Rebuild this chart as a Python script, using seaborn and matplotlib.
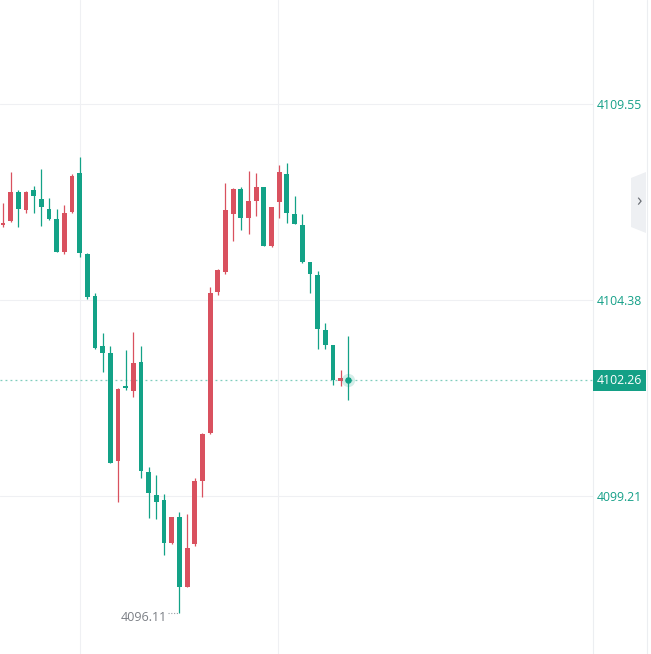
import matplotlib.pyplot as plt
import matplotlib.patches as mpatches
import numpy as np
import pandas as pd
import seaborn as sns

# candle data (price axis on the right)
opens = [4106.35, 4106.46, 4107.23, 4106.76, 4107.28, 4107.04, 4106.77, 4106.52, 4105.65, 4106.69,
         4107.73, 4105.59, 4104.49, 4103.17, 4102.97, 4100.14, 4102.07, 4101.99, 4102.74, 4099.84,
         4099.24, 4099.10, 4097.98, 4098.66, 4096.82, 4097.93, 4099.61, 4100.86, 4104.59, 4105.12,
         4106.64, 4107.31, 4106.53, 4107.00, 4107.35, 4105.79, 4106.97, 4107.70, 4106.64, 4106.35,
         4105.37, 4105.03, 4103.58, 4103.19, 4102.24, 4102.31]
highs = [4106.94, 4107.76, 4107.28, 4107.25, 4107.39, 4107.84, 4107.07, 4106.78, 4106.89, 4107.70,
         4108.16, 4105.62, 4104.56, 4103.50, 4103.17, 4102.05, 4103.06, 4103.54, 4103.17, 4099.98,
         4099.76, 4099.26, 4098.66, 4098.79, 4098.72, 4099.68, 4100.87, 4104.73, 4105.19, 4107.46,
         4107.33, 4107.35, 4107.79, 4107.72, 4107.36, 4106.84, 4107.94, 4108.00, 4107.12, 4106.65,
         4105.38, 4105.15, 4103.78, 4103.20, 4102.53, 4103.43]
lows = [4106.31, 4106.44, 4106.31, 4106.67, 4106.67, 4106.34, 4106.50, 4105.64, 4105.60, 4106.68,
        4105.51, 4104.40, 4103.08, 4102.49, 4100.07, 4099.06, 4102.01, 4101.83, 4099.69, 4098.63,
        4098.60, 4097.65, 4097.94, 4096.11, 4096.80, 4097.90, 4099.19, 4100.84, 4104.50, 4105.07,
        4105.94, 4106.23, 4106.11, 4106.58, 4105.80, 4105.77, 4106.53, 4106.40, 4106.38, 4105.36,
        4104.56, 4103.09, 4103.09, 4102.14, 4102.11, 4101.74]
closes = [4106.37, 4107.23, 4106.79, 4107.23, 4107.12, 4106.84, 4106.52, 4105.65, 4106.67, 4107.66,
          4105.63, 4104.45, 4103.10, 4102.99, 4100.09, 4102.03, 4102.05, 4102.71, 4099.86, 4099.28,
          4099.06, 4097.98, 4098.66, 4096.82, 4097.84, 4099.61, 4100.85, 4104.56, 4105.17, 4106.75,
          4107.31, 4106.53, 4106.99, 4107.35, 4105.81, 4106.83, 4107.75, 4106.67, 4106.39, 4105.37,
          4105.05, 4103.60, 4103.20, 4102.27, 4102.31, 4102.26]

price_ticks = [4099.21, 4104.38, 4109.55]
last_price = 4102.26
low_label = "4096.11"

up_color = "#d9515f"
down_color = "#13a287"

df = pd.DataFrame({"open": opens, "high": highs, "low": lows, "close": closes})
df["idx"] = np.arange(len(df))
df["color"] = np.where(df["close"] >= df["open"], up_color, down_color)
df["bottom"] = df[["open", "close"]].min(axis=1)
df["height"] = (df["close"] - df["open"]).abs().clip(lower=0.06)

sns.set_theme(style="white")
plt.rcParams['font.family'] = ['Open Sans', 'DejaVu Sans']

fig = plt.figure(figsize=(6.51, 6.54), dpi=100)
ax = fig.add_axes([0, 0, 593 / 651, 1])

# wicks and bodies
ax.vlines(df["idx"], df["low"], df["high"], colors=df["color"], linewidth=0.9, zorder=3)
ax.bar(df["idx"], df["height"], bottom=df["bottom"], width=0.62, color=df["color"],
       linewidth=0, zorder=4)

ax.set_xlim(-0.39, 76.9)
ax.set_ylim(4095.04, 4112.29)

# faint grid
for p in price_ticks:
    ax.axhline(p, color="#eff0f3", linewidth=0.8, zorder=0)
for gx in [10.05, 35.85]:
    ax.axvline(gx, color="#eff0f3", linewidth=0.8, zorder=0)

# last price dotted line + glow on last candle
ax.axhline(last_price, color="#7fcdbd", linewidth=0.9, linestyle=(0, (1.5, 2.5)), zorder=2)
last_i = df["idx"].iloc[-1]
ax.scatter([last_i], [last_price], s=90, color="#13a287", alpha=0.18, linewidth=0, zorder=5)
ax.scatter([last_i], [last_price], s=22, color="#13a287", zorder=6, linewidth=0)

# lowest price annotation
low_i = int(df["low"].idxmin())
ax.plot([low_i - 1.45, low_i], [df["low"].min(), df["low"].min()], color="#9aa0a6",
        linewidth=0.8, linestyle=(0, (1, 1.5)), zorder=3)
ax.text(low_i - 1.6, df["low"].min() - 0.1, low_label, ha="right", va="center",
        fontsize=9, color="#7b7f85")

# right price axis
ax.yaxis.tick_right()
ax.set_yticks(price_ticks)
ax.set_yticklabels([f"{p:.2f}" for p in price_ticks])
ax.tick_params(axis="y", length=0, pad=3, labelsize=8.8, labelcolor="#15a088")
ax.set_xticks([])
for s in ["top", "left", "bottom"]:
    ax.spines[s].set_visible(False)
ax.spines["right"].set_color("#eceef1")
ax.spines["right"].set_linewidth(0.8)

# last price badge
ax.annotate(f"{last_price:.2f}", xy=(1, last_price), xycoords=("axes fraction", "data"),
            xytext=(3, 0), textcoords="offset points", ha="left", va="center",
            fontsize=8.8, color="white",
            bbox=dict(boxstyle="square,pad=0.32", fc="#14a086", ec="none"))

# right edge panel + collapse button
fig.add_artist(plt.Line2D([647 / 651, 647 / 651], [0, 1], color="#eceef1", linewidth=0.8))
btn = mpatches.Polygon([[631 / 651, 1 - 178 / 654], [646 / 651, 1 - 172 / 654],
                        [646 / 651, 1 - 233 / 654], [631 / 651, 1 - 227 / 654]],
                       closed=True, fc="#eef0f3", ec="none", transform=fig.transFigure)
fig.add_artist(btn)
fig.text(638.5 / 651, 1 - 201 / 654, "›", ha="center", va="center", fontsize=13, color="#6b6f75")

fig.savefig("out.png", dpi=100)
